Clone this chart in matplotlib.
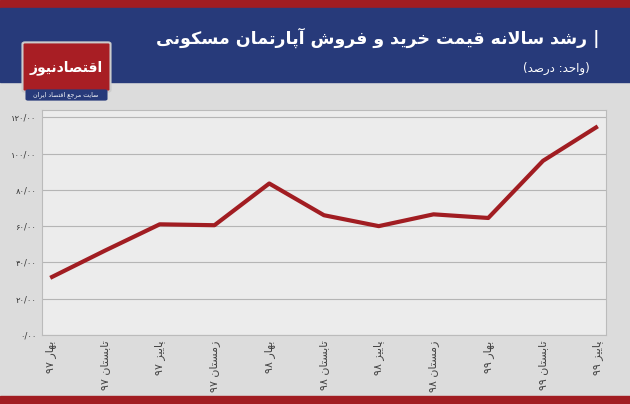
import matplotlib
matplotlib.use("Agg")
import matplotlib.pyplot as plt
from matplotlib.patches import Rectangle, FancyBboxPatch
import numpy as np

# forms: isolated, final, initial, medial (None -> right-joining only)
FORMS = {
    'ا': (0xFE8D, 0xFE8E, None, None), 'آ': (0xFE81, 0xFE82, None, None),
    'ب': (0xFE8F, 0xFE90, 0xFE91, 0xFE92), 'پ': (0xFB56, 0xFB57, 0xFB58, 0xFB59),
    'ت': (0xFE95, 0xFE96, 0xFE97, 0xFE98), 'ج': (0xFE9D, 0xFE9E, 0xFE9F, 0xFEA0),
    'ح': (0xFEA1, 0xFEA2, 0xFEA3, 0xFEA4), 'خ': (0xFEA5, 0xFEA6, 0xFEA7, 0xFEA8),
    'د': (0xFEA9, 0xFEAA, None, None), 'ر': (0xFEAD, 0xFEAE, None, None),
    'ز': (0xFEAF, 0xFEB0, None, None), 'س': (0xFEB1, 0xFEB2, 0xFEB3, 0xFEB4),
    'ش': (0xFEB5, 0xFEB6, 0xFEB7, 0xFEB8), 'ص': (0xFEB9, 0xFEBA, 0xFEBB, 0xFEBC),
    'ع': (0xFEC9, 0xFECA, 0xFECB, 0xFECC), 'ف': (0xFED1, 0xFED2, 0xFED3, 0xFED4),
    'ق': (0xFED5, 0xFED6, 0xFED7, 0xFED8), 'ک': (0xFB8E, 0xFB8F, 0xFB90, 0xFB91),
    'ل': (0xFEDD, 0xFEDE, 0xFEDF, 0xFEE0), 'م': (0xFEE1, 0xFEE2, 0xFEE3, 0xFEE4),
    'ن': (0xFEE5, 0xFEE6, 0xFEE7, 0xFEE8), 'ه': (0xFEE9, 0xFEEA, 0xFEEB, 0xFEEC),
    'و': (0xFEED, 0xFEEE, None, None), 'ی': (0xFBFC, 0xFBFD, 0xFBFE, 0xFBFF),
}
MIRROR = {'(': ')', ')': '('}


def fa(s):
    # very small persian shaper + rtl reorder
    chars = list(s)
    out = []
    i = 0
    prev_joins = False
    while i < len(chars):
        c = chars[i]
        if c not in FORMS:
            out.append(MIRROR.get(c, c))
            prev_joins = False
            i += 1
            continue
        nxt = chars[i + 1] if i + 1 < len(chars) else None
        if c == 'ل' and nxt in ('ا', 'آ'):
            iso, fin = (0xFEFB, 0xFEFC) if nxt == 'ا' else (0xFEF5, 0xFEF6)
            out.append(chr(fin if prev_joins else iso))
            prev_joins = False
            i += 2
            continue
        f = FORMS[c]
        join_next = f[2] is not None and nxt in FORMS
        if prev_joins and join_next:
            g = f[3]
        elif prev_joins:
            g = f[1]
        elif join_next:
            g = f[2]
        else:
            g = f[0]
        out.append(chr(g))
        prev_joins = f[2] is not None
        i += 1
    # reverse, keeping digit runs left-to-right
    res, run = [], []
    for ch in reversed(out):
        if ch.isdigit() or (run and ch == '/'):
            run.append(ch)
        else:
            if run:
                res.extend(reversed(run))
                run = []
            res.append(ch)
    res.extend(reversed(run))
    return ''.join(res)


plt.rcParams['font.family'] = ['DejaVu Sans']

seasons = ['بهار ۹۷', 'تابستان ۹۷', 'پاییز ۹۷', 'زمستان ۹۷',
           'بهار ۹۸', 'تابستان ۹۸', 'پاییز ۹۸', 'زمستان ۹۸',
           'بهار ۹۹', 'تابستان ۹۹', 'پاییز ۹۹']
growth = [31.5, 46.5, 61, 60.5, 83.5, 66, 60, 66.5, 64.5, 96, 115]
yticks = [0, 20, 40, 60, 80, 100, 120]
ytick_labels = ['۰/۰۰', '۲۰/۰۰', '۴۰/۰۰', '۶۰/۰۰', '۸۰/۰۰', '۱۰۰/۰۰', '۱۲۰/۰۰']

fig = plt.figure(figsize=(6.3, 4.04), dpi=100)
fig.patch.set_facecolor('#dcdcdc')

W, H = 630, 404
def box(x, y, w, h, color):
    fig.patches.append(Rectangle((x / W, 1 - (y + h) / H), w / W, h / H,
                                 transform=fig.transFigure, color=color, zorder=0))

box(0, 0, 630, 8, '#a11d22')
box(0, 8, 630, 74, '#273a7a')
box(0, 396, 630, 8, '#a11d22')

fig.text(600 / W, 1 - 38 / H, fa('| رشد سالانه قیمت خرید و فروش آپارتمان مسکونی'),
         color='white', fontsize=12.5, ha='right', va='center', fontweight='bold')
fig.text(590 / W, 1 - 68 / H, fa('(واحد: درصد)'), color='white', fontsize=8.5,
         ha='right', va='center')

# logo
fig.patches.append(FancyBboxPatch((25 / W, 1 - 90 / H), 83 / W, 46 / H,
                                  boxstyle='round,pad=0.004', transform=fig.transFigure,
                                  fc='#a81e24', ec='#cccccc', lw=1.5, zorder=2))
fig.text(66 / W, 1 - 68 / H, fa('اقتصادنیوز'), color='white', fontsize=10,
         fontweight='bold', ha='center', va='center', zorder=3)
fig.patches.append(FancyBboxPatch((28 / W, 1 - 99 / H), 77 / W, 8 / H,
                                  boxstyle='round,pad=0.004', transform=fig.transFigure,
                                  fc='#273a7a', ec='none', zorder=2))
fig.text(66 / W, 1 - 95 / H, fa('سایت مرجع اقتصاد ایران'), color='white', fontsize=4.5,
         ha='center', va='center', zorder=3)

ax = fig.add_axes([42 / W, 1 - 335 / H, (606 - 42) / W, (335 - 110) / H])
ax.set_facecolor('#ececec')
x = np.arange(len(seasons))
ax.plot(x, growth, color='#a11d22', lw=3, solid_capstyle='butt', zorder=3)
ax.set_xlim(-0.15, len(seasons) - 1 + 0.15)
ax.set_ylim(0, 124)
ax.set_yticks(yticks)
ax.set_yticklabels(ytick_labels, fontsize=6, color='#333333')
ax.set_xticks(x)
ax.set_xticklabels([fa(s) for s in seasons], rotation=90, fontsize=8,
                   color='#444444', va='top', ha='center')
ax.grid(axis='y', color='#b5b5b5', lw=0.8)
ax.tick_params(length=0, pad=4)
for sp in ax.spines.values():
    sp.set_color('#bbbbbb')
    sp.set_linewidth(0.8)

fig.savefig('out.png', dpi=100, facecolor=fig.get_facecolor())
